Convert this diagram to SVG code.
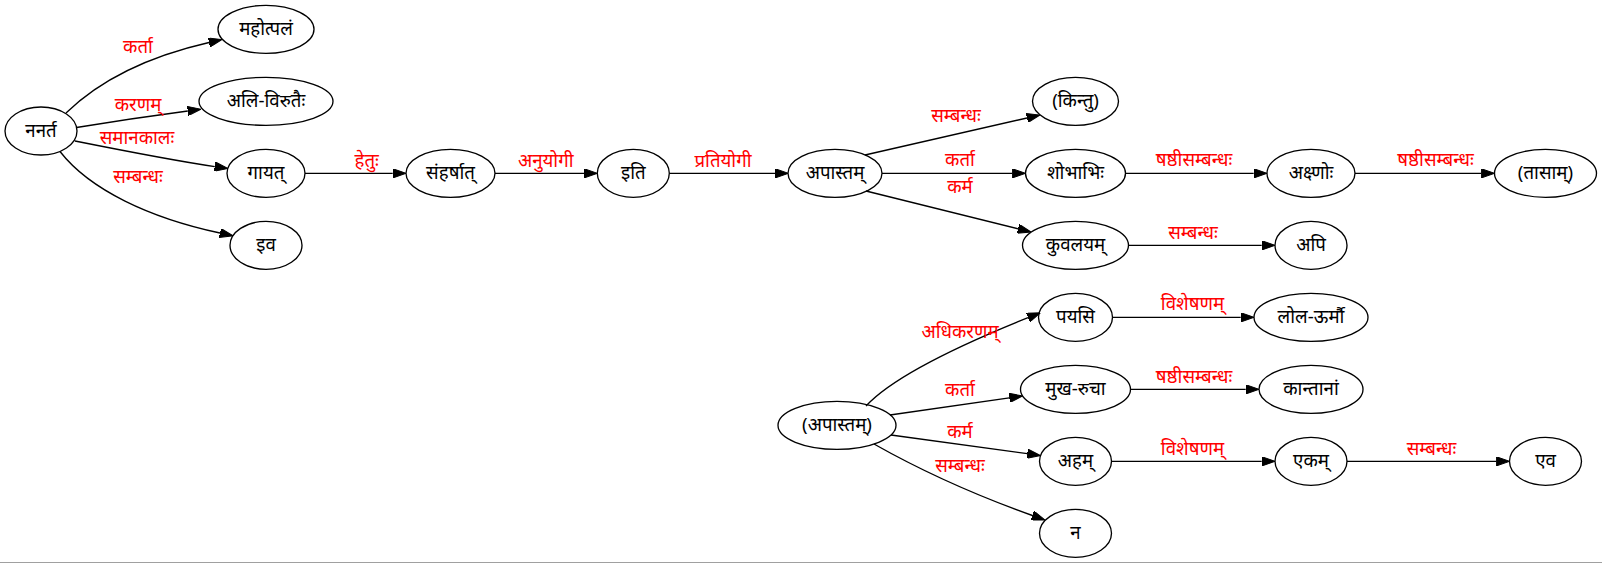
<svg xmlns="http://www.w3.org/2000/svg" width="1602" height="563" viewBox="0 0 1602 563">
  <style>
    .node ellipse { fill: none; stroke: #000; stroke-width: 1.33; }
    .node text { font-family: "Noto Sans", "DejaVu Sans", sans-serif; font-size: 18.67px; text-anchor: middle; fill: #000; }
    .edge path { fill: none; stroke: #000; stroke-width: 1.33; marker-end: url(#arrow); }
    .edge text { font-family: "Noto Sans", "DejaVu Sans", sans-serif; font-size: 18.67px; text-anchor: middle; fill: #ff0000; }
  </style>
  <defs>
    <marker id="arrow" viewBox="0 0 13.33 9.33" refX="0" refY="4.67" markerWidth="13.33" markerHeight="9.33" markerUnits="userSpaceOnUse" orient="auto">
      <path d="M0,0 L13.33,4.67 L0,9.33 z" fill="#000" stroke="#000" stroke-width="1"/>
    </marker>
  </defs>
  <rect width="1602" height="563" fill="#fff"/>

  <!-- connectors with their labels -->
  <g id="edges" class="edge">
    <path d="M66,113 C100,80 150,56 209,42.5"/>
    <text x="138" y="53">कर्ता</text>
    <path d="M76.5,127.5 C110,122 150,116 187.8,111"/>
    <text x="138" y="111">करणम्</text>
    <path d="M75,141 C120,150 170,160 214.8,166.6"/>
    <text x="137" y="144">समानकालः</text>
    <path d="M60,151.5 C90,190 150,218 220,233"/>
    <text x="138" y="183">सम्बन्धः</text>

    <path d="M305,173.33 L392.7,173.33"/>
    <text x="366.7" y="167">हेतुः</text>
    <path d="M495,173.33 L584,173.33"/>
    <text x="545.7" y="167">अनुयोगी</text>
    <path d="M669.3,173.33 L775,173.33"/>
    <text x="723" y="167">प्रतियोगी</text>

    <path d="M865,155 L1027,118"/>
    <text x="956" y="122">सम्बन्धः</text>
    <path d="M882,173.33 L1012.2,173.33"/>
    <text x="960" y="166">कर्ता</text>
    <path d="M866,191 L1018.1,228.8"/>
    <text x="960" y="193">कर्म</text>
    <path d="M1125.5,173.33 L1253.7,173.33"/>
    <text x="1194" y="166">षष्ठीसम्बन्धः</text>
    <path d="M1355,173.33 L1481.2,173.33"/>
    <text x="1435.5" y="166">षष्ठीसम्बन्धः</text>
    <path d="M1128.5,245.33 L1261.7,245.33"/>
    <text x="1193" y="239">सम्बन्धः</text>

    <path d="M866,406 C892,378 960,345 1028,317.7"/>
    <text x="960" y="338">अधिकरणम्</text>
    <path d="M890,415 L1009.3,397.9"/>
    <text x="960" y="396">कर्ता</text>
    <path d="M891,435 L1027.3,453.7"/>
    <text x="960" y="438">कर्म</text>
    <path d="M874,444 C920,470 975,495 1032.4,515.5"/>
    <text x="960" y="472">सम्बन्धः</text>
    <path d="M1112.5,317.33 L1240.7,317.33"/>
    <text x="1192.5" y="310">विशेषणम्</text>
    <path d="M1130.5,389.33 L1245.7,389.33"/>
    <text x="1194" y="383">षष्ठीसम्बन्धः</text>
    <path d="M1111.5,461.33 L1261.7,461.33"/>
    <text x="1192.5" y="455">विशेषणम्</text>
    <path d="M1347,461.33 L1496.2,461.33"/>
    <text x="1431.5" y="455">सम्बन्धः</text>
  </g>

  <!-- nodes -->
  <g id="n0" class="node"><ellipse cx="41" cy="131" rx="36" ry="24"/><text x="41" y="137">ननर्त</text></g>
  <g id="n1" class="node"><ellipse cx="266" cy="29.33" rx="48" ry="24"/><text x="266" y="35.33">महोत्पलं</text></g>
  <g id="n2" class="node"><ellipse cx="266" cy="101.33" rx="67" ry="24"/><text x="266" y="107.33">अलि-विरुतैः</text></g>
  <g id="n3" class="node"><ellipse cx="266" cy="173.33" rx="39" ry="24"/><text x="266" y="179.33">गायत्</text></g>
  <g id="n4" class="node"><ellipse cx="266" cy="245.33" rx="36" ry="24"/><text x="266" y="251.33">इव</text></g>
  <g id="n5" class="node"><ellipse cx="450.5" cy="173.33" rx="44.5" ry="24"/><text x="450.5" y="179.33">संहर्षात्</text></g>
  <g id="n6" class="node"><ellipse cx="633.3" cy="173.33" rx="36" ry="24"/><text x="633.3" y="179.33">इति</text></g>
  <g id="n7" class="node"><ellipse cx="835" cy="173.33" rx="47" ry="24"/><text x="835" y="179.33">अपास्तम्</text></g>
  <g id="n8" class="node"><ellipse cx="1075.5" cy="101.33" rx="43" ry="24"/><text x="1075.5" y="107.33">(किन्तु)</text></g>
  <g id="n9" class="node"><ellipse cx="1075.5" cy="173.33" rx="50" ry="24"/><text x="1075.5" y="179.33">शोभाभिः</text></g>
  <g id="n10" class="node"><ellipse cx="1075.5" cy="245.33" rx="53" ry="24"/><text x="1075.5" y="251.33">कुवलयम्</text></g>
  <g id="n11" class="node"><ellipse cx="1311" cy="173.33" rx="44" ry="24"/><text x="1311" y="179.33">अक्ष्णोः</text></g>
  <g id="n12" class="node"><ellipse cx="1545.5" cy="173.33" rx="51" ry="24"/><text x="1545.5" y="179.33">(तासाम्)</text></g>
  <g id="n13" class="node"><ellipse cx="1311" cy="245.33" rx="36" ry="24"/><text x="1311" y="251.33">अपि</text></g>
  <g id="n14" class="node"><ellipse cx="837" cy="425.33" rx="59" ry="24"/><text x="837" y="431.33">(अपास्तम्)</text></g>
  <g id="n15" class="node"><ellipse cx="1075.5" cy="317.33" rx="37" ry="24"/><text x="1075.5" y="323.33">पयसि</text></g>
  <g id="n16" class="node"><ellipse cx="1311" cy="317.33" rx="57" ry="24"/><text x="1311" y="323.33">लोल-ऊर्मौ</text></g>
  <g id="n17" class="node"><ellipse cx="1075.5" cy="389.33" rx="55" ry="24"/><text x="1075.5" y="395.33">मुख-रुचा</text></g>
  <g id="n18" class="node"><ellipse cx="1311" cy="389.33" rx="52" ry="24"/><text x="1311" y="395.33">कान्तानां</text></g>
  <g id="n19" class="node"><ellipse cx="1075.5" cy="461.33" rx="36" ry="24"/><text x="1075.5" y="467.33">अहम्</text></g>
  <g id="n20" class="node"><ellipse cx="1311" cy="461.33" rx="36" ry="24"/><text x="1311" y="467.33">एकम्</text></g>
  <g id="n21" class="node"><ellipse cx="1545.5" cy="461.33" rx="36" ry="24"/><text x="1545.5" y="467.33">एव</text></g>
  <g id="n22" class="node"><ellipse cx="1075.5" cy="533.33" rx="36" ry="24"/><text x="1075.5" y="539.33">न</text></g>

  <!-- bottom rule -->
  <line x1="0" y1="562.5" x2="1602" y2="562.5" stroke="#a0a0a0" stroke-width="1"/>
</svg>
